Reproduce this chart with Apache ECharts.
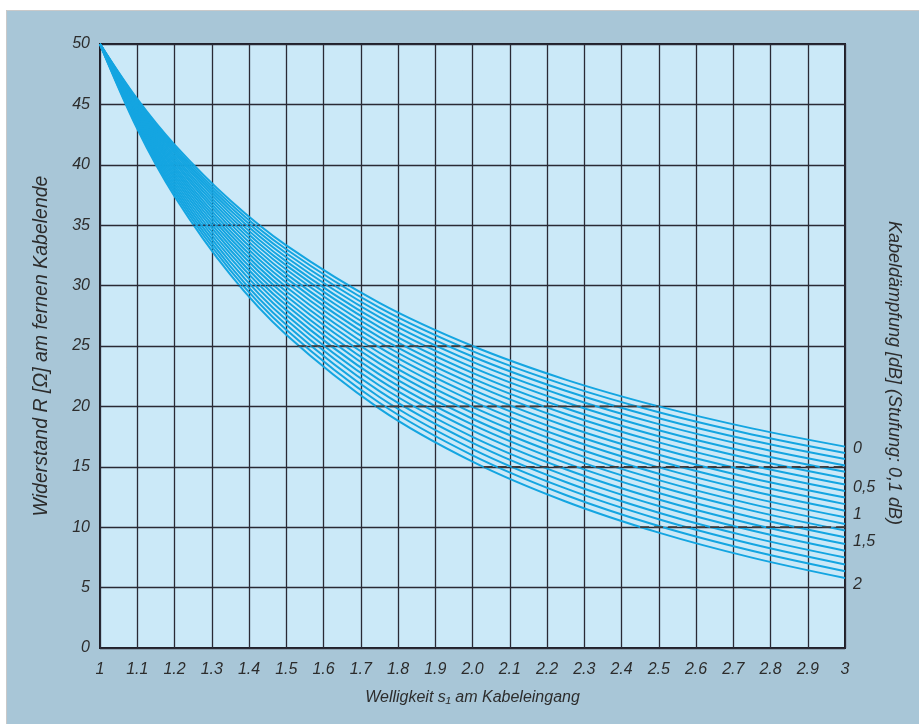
<!DOCTYPE html>
<html>
<head>
<meta charset="utf-8">
<script src="https://cdn.jsdelivr.net/npm/echarts@6/dist/echarts.min.js"></script>
<style>
html,body{margin:0;padding:0;background:#fff;}
#chart{width:919px;height:724px;}
</style>
</head>
<body>
<div id="chart"></div>
<script>
// ---- data ----
const xValues = [1.0, 1.1, 1.2, 1.35, 1.5, 1.75, 2.0, 2.25, 2.5, 2.75, 3.0];
const xTickLabels = ['1','1.1','1.2','1.3','1.4','1.5','1.6','1.7','1.8','1.9','2.0','2.1','2.2','2.3','2.4','2.5','2.6','2.7','2.8','2.9','3'];
const attenuationNames = ['0','0,1','0,2','0,3','0,4','0,5','0,6','0,7','0,8','0,9','1','1,1','1,2','1,3','1,4','1,5','1,6','1,7','1,8','1,9','2'];
const rightLabels = {0:'0', 5:'0,5', 10:'1', 15:'1,5', 20:'2'};

const curve00 = [50, 45.45, 41.67, 37.04, 33.33, 28.57, 25.00, 22.22, 20.00, 18.18, 16.67];
const curve01 = [50, 45.35, 41.49, 36.78, 33.01, 28.18, 24.57, 21.76, 19.51, 17.68, 16.15];
const curve02 = [50, 45.25, 41.31, 36.51, 32.68, 27.79, 24.13, 21.29, 19.02, 17.17, 15.64];
const curve03 = [50, 45.15, 41.12, 36.24, 32.35, 27.39, 23.68, 20.82, 18.53, 16.66, 15.11];
const curve04 = [50, 45.04, 40.94, 35.96, 32.01, 26.98, 23.23, 20.34, 18.03, 16.15, 14.59];
const curve05 = [50, 44.93, 40.74, 35.68, 31.67, 26.57, 22.78, 19.85, 17.53, 15.63, 14.06];
const curve06 = [50, 44.82, 40.55, 35.40, 31.33, 26.15, 22.32, 19.37, 17.02, 15.11, 13.53];
const curve07 = [50, 44.70, 40.35, 35.11, 30.97, 25.73, 21.86, 18.88, 16.51, 14.59, 13.00];
const curve08 = [50, 44.58, 40.15, 34.81, 30.62, 25.31, 21.39, 18.38, 16.00, 14.06, 12.46];
const curve09 = [50, 44.47, 39.94, 34.51, 30.25, 24.88, 20.92, 17.88, 15.48, 13.53, 11.91];
const curve10 = [50, 44.34, 39.73, 34.21, 29.89, 24.44, 20.44, 17.38, 14.95, 12.99, 11.37];
const curve11 = [50, 44.22, 39.52, 33.90, 29.51, 24.00, 19.96, 16.87, 14.43, 12.45, 10.82];
const curve12 = [50, 44.09, 39.30, 33.59, 29.14, 23.56, 19.47, 16.36, 13.90, 11.91, 10.27];
const curve13 = [50, 43.96, 39.08, 33.27, 28.75, 23.10, 18.98, 15.84, 13.37, 11.37, 9.72];
const curve14 = [50, 43.83, 38.85, 32.95, 28.37, 22.65, 18.49, 15.32, 12.83, 10.82, 9.16];
const curve15 = [50, 43.70, 38.62, 32.62, 27.97, 22.19, 17.99, 14.80, 12.29, 10.27, 8.61];
const curve16 = [50, 43.56, 38.39, 32.29, 27.57, 21.73, 17.48, 14.27, 11.75, 9.72, 8.05];
const curve17 = [50, 43.42, 38.15, 31.95, 27.17, 21.26, 16.98, 13.74, 11.20, 9.16, 7.49];
const curve18 = [50, 43.28, 37.90, 31.60, 26.76, 20.78, 16.47, 13.21, 10.66, 8.61, 6.92];
const curve19 = [50, 43.13, 37.66, 31.26, 26.35, 20.30, 15.95, 12.67, 10.10, 8.05, 6.36];
const curve20 = [50, 42.98, 37.41, 30.90, 25.93, 19.82, 15.43, 12.13, 9.55, 7.48, 5.79];
const curves = [curve00,curve01,curve02,curve03,curve04,curve05,curve06,curve07,curve08,curve09,curve10,
                curve11,curve12,curve13,curve14,curve15,curve16,curve17,curve18,curve19,curve20];

// dashed reference levels and their extents (s values)
const dashLevels = [25, 20, 15, 10];
const dashFrom   = [1.53, 1.74, 2.03, 2.45];
const dashTo     = [2.0, 2.5, 3.0, 3.0];
// dotted reference levels
const dotLevels = [35, 30];
const dotFrom   = [1.25, 1.37];
const dotTo     = [1.43, 1.67];

// ---- chart ----
const FONT = '"Liberation Sans", Arial, sans-serif';
const chart = echarts.init(document.getElementById('chart'), null, {renderer: 'canvas'});
const series = [];
const labelOffsets = {0:[0,2], 5:[0,9], 10:[0,4], 15:[0,-2], 20:[0,6]};
curves.forEach((c, i) => {
  const s = {
    name: attenuationNames[i],
    type: 'line',
    data: c.map((v, j) => [xValues[j], v]),
    symbol: 'none',
    smooth: 0.35,
    lineStyle: {color: '#14a5e1', width: 2},
    z: 3,
    silent: true
  };
  if (rightLabels[i] !== undefined) {
    s.endLabel = {
      show: true, formatter: rightLabels[i], distance: 8,
      offset: labelOffsets[i],
      color: '#2c2c2c', fontSize: 16, fontStyle: 'italic', fontFamily: FONT
    };
  }
  series.push(s);
});
dashLevels.forEach((lv, i) => {
  series.push({
    type: 'line', symbol: 'none', silent: true, z: 5,
    data: [[dashFrom[i], lv], [dashTo[i], lv]],
    lineStyle: {color: '#3f3a3a', width: 1.7, type: [9, 5]}
  });
});
dotLevels.forEach((lv, i) => {
  series.push({
    type: 'line', symbol: 'none', silent: true, z: 5,
    data: [[dotFrom[i], lv], [dotTo[i], lv]],
    lineStyle: {color: '#2a3a55', width: 1.4, type: [2, 3]}
  });
});

const option = {
  animation: false,
  backgroundColor: '#a8c6d7',
  grid: {left: 100, right: 74, top: 44, bottom: 76, show: true,
         backgroundColor: '#cbe9f8', borderColor: '#1e1e28', borderWidth: 2},
  xAxis: {
    type: 'value', min: 1, max: 3, interval: 0.1,
    axisLine: {show: false}, axisTick: {show: false},
    splitLine: {show: true, lineStyle: {color: '#2a2a35', width: 1.3}},
    axisLabel: {
      margin: 14, color: '#2c2c2c', fontSize: 16, fontStyle: 'italic', fontFamily: FONT,
      formatter: v => xTickLabels[Math.round((v - 1) * 10)]
    },
    name: 'Welligkeit s\u2081 am Kabeleingang',
    nameLocation: 'middle', nameGap: 42,
    nameTextStyle: {color: '#2c2c2c', fontSize: 16, fontStyle: 'italic', fontFamily: FONT}
  },
  yAxis: {
    type: 'value', min: 0, max: 50, interval: 5,
    axisLine: {show: false}, axisTick: {show: false},
    splitLine: {show: true, lineStyle: {color: '#2a2a35', width: 1.3}},
    axisLabel: {margin: 10, color: '#2c2c2c', fontSize: 16, fontStyle: 'italic', fontFamily: FONT},
    name: 'Widerstand R [\u03A9] am fernen Kabelende',
    nameLocation: 'middle', nameGap: 48,
    nameTextStyle: {color: '#2c2c2c', fontSize: 19.5, fontStyle: 'italic', fontFamily: FONT}
  },
  graphic: [
    {type: 'rect', shape: {x: 0, y: 0, width: 919, height: 10}, style: {fill: '#ffffff'}, silent: true},
    {type: 'rect', shape: {x: 0, y: 0, width: 6, height: 724}, style: {fill: '#ffffff'}, silent: true},
    {type: 'polyline', shape: {points: [[6.5, 724], [6.5, 10.5], [919, 10.5]]}, style: {stroke: '#c9c9c9', lineWidth: 1, fill: null}, silent: true},
    {type: 'text', x: 894, y: 373, rotation: -Math.PI / 2,
     style: {text: 'Kabeldämpfung [dB] (Stufung: 0,1 dB)', fill: '#2c2c2c',
             font: 'italic 18px "Liberation Sans", Arial, sans-serif', textAlign: 'center', textVerticalAlign: 'middle'},
     silent: true}
  ],
  series: series
};
chart.setOption(option);
</script>
</body>
</html>
